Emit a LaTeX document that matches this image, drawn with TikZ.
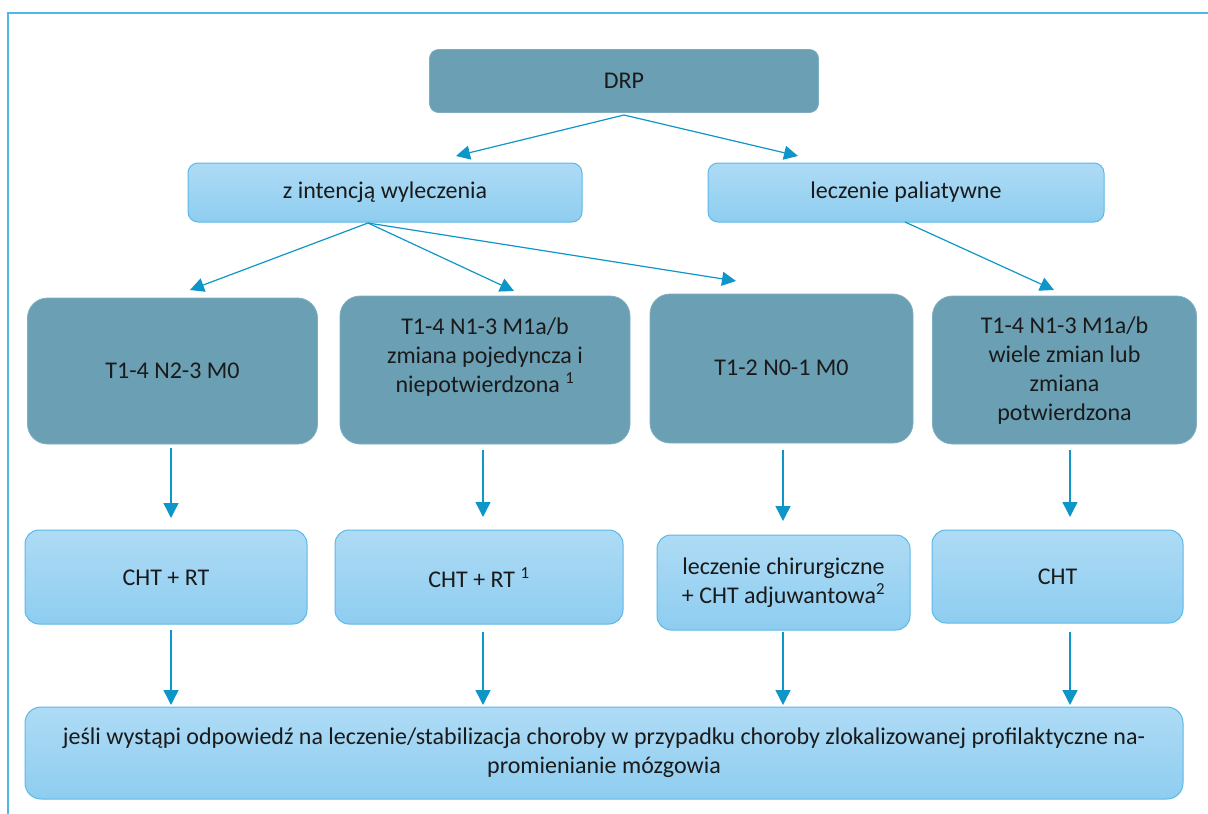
\documentclass[tikz,border=0pt]{standalone}
\usepackage{fontspec}
\setmainfont{Carlito}
\usetikzlibrary{arrows.meta}
\definecolor{darkfill}{HTML}{6B9FB3}
\definecolor{darkedge}{HTML}{7FAEC0}
\definecolor{lighttop}{HTML}{AEDBF5}
\definecolor{lightbot}{HTML}{8ECDF0}
\definecolor{lightedge}{HTML}{5CB9E7}
\definecolor{arrowc}{HTML}{0E96C9}
\definecolor{framec}{HTML}{4DB8E8}
\definecolor{txtc}{HTML}{1A1A1A}
\tikzset{
  box/.style={inner sep=0pt, outer sep=0pt},
  darkbox/.style={box, fill=darkfill, draw=darkedge, line width=0.8pt, rounded corners=20pt},
  topbox/.style={box, fill=darkfill, draw=darkedge, line width=0.8pt, rounded corners=9pt},
  lightbox/.style={box, top color=lighttop, bottom color=lightbot, draw=lightedge, line width=1pt, rounded corners=14pt},
  txt/.style={inner sep=0pt, text=txtc, font=\fontsize{24}{29}\selectfont, align=center},
  conn/.style={draw=arrowc, line width=1.4pt, -{Triangle[length=15pt,width=15pt]}},
  diag/.style={draw=arrowc, line width=1.2pt, -{Triangle[length=14pt,width=14pt]}},
}
\begin{document}
\begin{tikzpicture}[x=1pt,y=-1pt]
\useasboundingbox (0,0) rectangle (1208,814);
% frame
\draw[framec, line width=2pt] (7.5,814) -- (7.5,13) -- (1208,13);

% row 1
\node[topbox, minimum width=389pt, minimum height=63pt] (drp) at (624,81) {};
\node[txt] (drpt) at (624,81) {DRP};

% row 2
\node[lightbox, rounded corners=10pt, minimum width=394pt, minimum height=59pt] (cur) at (385,192.5) {};
\node[txt] (curt) at (385,192.5) {z intencją wyleczenia};
\node[lightbox, rounded corners=10pt, minimum width=396pt, minimum height=59pt] (pal) at (906,192.5) {};
\node[txt] (palt) at (906,192.5) {leczenie paliatywne};

% row 3
\node[darkbox, minimum width=290pt, minimum height=146pt] (a) at (172.5,371) {};
\node[txt] (at) at (172.5,371) {T1-4 N2-3 M0};
\node[darkbox, minimum width=290pt, minimum height=148pt] (b) at (485,370) {};
\node[txt] (bt) at (485,357) {T1-4 N1-3 M1a/b\\zmiana pojedyncza i\\niepotwierdzona \textsuperscript{1}};
\node[darkbox, minimum width=263pt, minimum height=149pt] (c) at (781.5,368.5) {};
\node[txt] (ct) at (781.5,368) {T1-2 N0-1 M0};
\node[darkbox, minimum width=264pt, minimum height=148pt] (d) at (1064.5,370) {};
\node[txt] (dt) at (1064.5,371) {T1-4 N1-3 M1a/b\\wiele zmian lub\\zmiana\\potwierdzona};

% row 4
\node[lightbox, minimum width=282pt, minimum height=94pt] (e) at (166,577) {};
\node[txt] (et) at (166,578) {CHT + RT};
\node[lightbox, minimum width=288pt, minimum height=94pt] (f) at (479,577) {};
\node[txt] (ft) at (479,578) {CHT + RT \textsuperscript{1}};
\node[lightbox, minimum width=253pt, minimum height=95pt] (g) at (783.5,582.5) {};
\node[txt] (gt) at (783.5,583) {leczenie chirurgiczne\\+ CHT adjuwantowa\textsuperscript{2}};
\node[lightbox, minimum width=251pt, minimum height=93pt] (h) at (1057.5,576.5) {};
\node[txt] (ht) at (1057.5,577) {CHT};

% row 5
\node[lightbox, rounded corners=16pt, minimum width=1158pt, minimum height=92pt] (z) at (604,753) {};
\node[txt] (zt) at (604,753) {jeśli wystąpi odpowiedź na leczenie/stabilizacja choroby w przypadku choroby zlokalizowanej profilaktyczne na-\\promienianie mózgowia};

% connector points
\coordinate (drpo) at (624,115);
\coordinate (curi) at (456,156);
\coordinate (pali) at (798,156);
\coordinate (curo) at (368,223);
\coordinate (ai) at (190,290);
\coordinate (bi) at (514,291);
\coordinate (ci) at (736,281);
\coordinate (palo) at (905,222);
\coordinate (di) at (1054,290);

\coordinate (ao) at (171,448); \coordinate (ei) at (171,518);
\coordinate (bo) at (483,450); \coordinate (fi) at (483,517);
\coordinate (co) at (783,450); \coordinate (gi) at (783,521);
\coordinate (do) at (1070,450); \coordinate (hi) at (1070,517);

\coordinate (eo) at (171,630); \coordinate (z1) at (171,705);
\coordinate (fo) at (483,632); \coordinate (z2) at (483,705);
\coordinate (go) at (783,632); \coordinate (z3) at (783,705);
\coordinate (ho) at (1070,632); \coordinate (z4) at (1070,705);

\draw[diag] (drpo) -- (curi);
\draw[diag] (drpo) -- (pali);
\draw[diag] (curo) -- (ai);
\draw[diag] (curo) -- (bi);
\draw[diag] (curo) -- (ci);
\draw[diag] (palo) -- (di);

\draw[conn] (ao) -- (ei);
\draw[conn] (bo) -- (fi);
\draw[conn] (co) -- (gi);
\draw[conn] (do) -- (hi);
\draw[conn] (eo) -- (z1);
\draw[conn] (fo) -- (z2);
\draw[conn] (go) -- (z3);
\draw[conn] (ho) -- (z4);
\end{tikzpicture}
\end{document}
